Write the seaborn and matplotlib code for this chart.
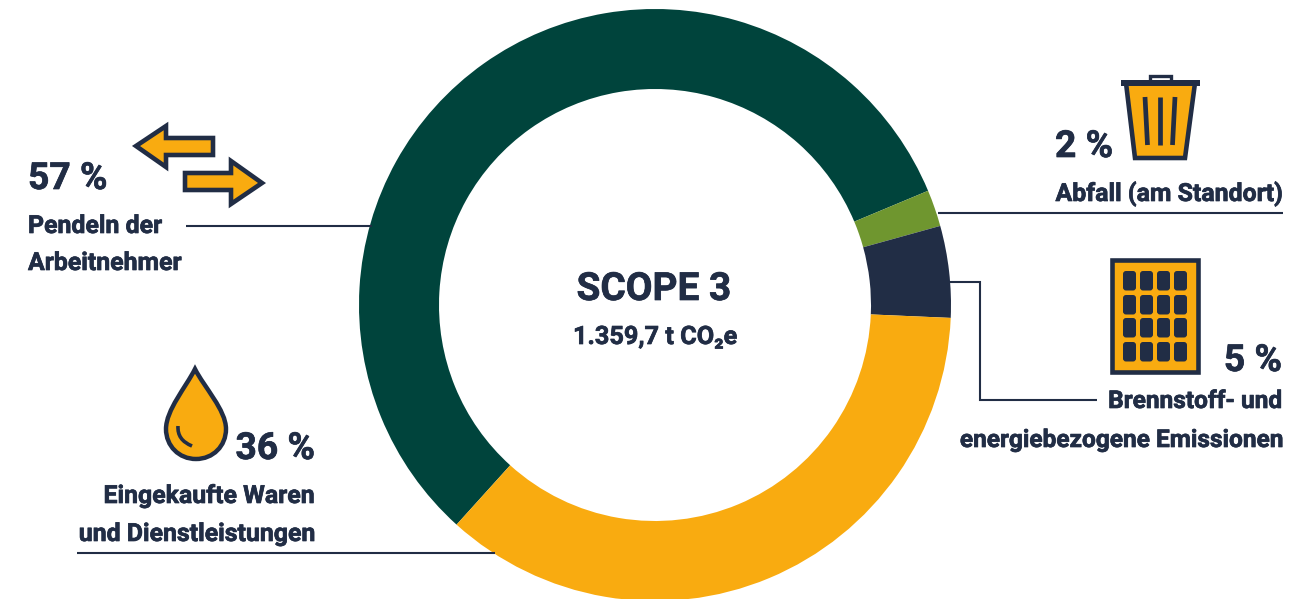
import matplotlib
matplotlib.use("Agg")
import matplotlib.pyplot as plt
import matplotlib.patheffects as pe
from matplotlib.patches import Polygon, Rectangle, FancyBboxPatch, PathPatch
from matplotlib.path import Path
import seaborn as sns

categories = ["Pendeln der Arbeitnehmer", "Abfall (am Standort)",
              "Brennstoff- und energiebezogene Emissionen",
              "Eingekaufte Waren und Dienstleistungen"]
shares = [57, 2, 5, 36]
colors = ["#00443C", "#6F962F", "#212D45", "#F9AB10"]
title = "SCOPE 3"
subtitle = "1.359,7 t CO₂e"

NAVY = "#212D45"
ORANGE = "#F9AB10"

sns.set_theme(style="white")
plt.rcParams["font.family"] = ["Roboto", "DejaVu Sans"]
plt.rcParams["font.weight"] = "bold"

W, H = 1316, 599
fig = plt.figure(figsize=(W / 100, H / 100), dpi=100, facecolor="white")

ax_pie = fig.add_axes([0, 0, 1, 1])
cx, cy, R, r = 655, 305, 296, 216
ax_pie.pie(shares, colors=sns.color_palette(colors), startangle=227.9, counterclock=False,
           center=(cx, H - cy), radius=R, frame=True,
           wedgeprops=dict(width=R - r, linewidth=0))
ax_pie.set_xlim(0, W)
ax_pie.set_ylim(0, H)
ax_pie.axis("off")

ax = fig.add_axes([0, 0, 1, 1], facecolor="none")
ax.set_xlim(0, W)
ax.set_ylim(H, 0)
ax.axis("off")

HEAVY = [pe.withStroke(linewidth=0.5, foreground=NAVY)]


def txt(x, y, s, size, ha="left"):
    ax.text(x, y, s, fontsize=size, color=NAVY, ha=ha, va="baseline",
            fontweight="bold", path_effects=HEAVY)


def line(xs, ys):
    ax.plot(xs, ys, color=NAVY, lw=1.5, solid_joinstyle="miter", solid_capstyle="butt")


# centre
txt(654, 300, title, 27.9, "center")
txt(655, 344, subtitle, 18.2, "center")

# values and labels
PCT = 26.8
LAB = 17.9
txt(28, 189, f"{shares[0]} %", PCT)
txt(28, 233, "Pendeln der", LAB)
txt(28, 270, "Arbeitnehmer", LAB)

txt(1055, 157, f"{shares[1]} %", PCT)
txt(1283, 201, "Abfall (am Standort)", LAB, "right")

txt(1282, 371, f"{shares[2]} %", PCT, "right")
txt(1282, 408, "Brennstoff- und", 17.6, "right")
txt(1282, 447, "energiebezogene Emissionen", 17.6, "right")

txt(315, 459, f"{shares[3]} %", PCT, "right")
txt(315, 503, "Eingekaufte Waren", LAB, "right")
txt(315, 541, "und Dienstleistungen", LAB, "right")

# leader lines
line([186, 372], [226, 226])
line([938, 1283], [213, 213])
line([950, 980, 980, 1097], [282, 282, 400, 400])
line([77, 495], [553, 553])

# icons
ICON = dict(facecolor=ORANGE, edgecolor=NAVY, linewidth=3.3, joinstyle="miter")
ax.add_patch(Polygon([(136, 146), (166, 126), (166, 138), (213, 138), (213, 155),
                      (166, 155), (166, 167)], **ICON))
ax.add_patch(Polygon([(262, 183), (231, 161), (231, 173), (185, 173), (185, 190),
                      (231, 190), (231, 204)], **ICON))

# trash bin
ax.add_patch(Rectangle((1150, 76), 21, 8, facecolor="white", edgecolor=NAVY, linewidth=2.4))
ax.add_patch(Polygon([(1126, 83), (1195, 83), (1185, 158), (1135, 158)], **ICON))
ax.add_patch(Rectangle((1121, 80), 79, 5.5, facecolor=NAVY, edgecolor="none"))
for xa, xb in [(1145, 1147.5), (1160, 1160), (1175, 1172.5)]:
    ax.plot([xa, xb], [97, 145], color=NAVY, lw=3.4, solid_capstyle="butt")

# building
ax.add_patch(Rectangle((1111.5, 259.5), 86, 112, **ICON))
for wx in [1123, 1140, 1157, 1174]:
    for wy in [271, 295, 318, 342]:
        ax.add_patch(FancyBboxPatch((wx + 3, wy + 3), 7, 13.5,
                                    boxstyle="round,pad=3,rounding_size=3",
                                    facecolor=NAVY, edgecolor="none"))

# drop
codes = [Path.MOVETO, Path.CURVE4, Path.CURVE4, Path.CURVE4,
         Path.CURVE4, Path.CURVE4, Path.CURVE4,
         Path.CURVE4, Path.CURVE4, Path.CURVE4,
         Path.CURVE4, Path.CURVE4, Path.CURVE4, Path.CLOSEPOLY]
verts = [(195, 369), (186, 387), (166, 410), (166, 429),
         (166, 446), (179, 459), (196, 459),
         (213, 459), (226, 446), (226, 429),
         (226, 410), (204, 387), (195, 369), (195, 369)]
ax.add_patch(PathPatch(Path(verts, codes), facecolor=ORANGE, edgecolor=NAVY, linewidth=3.2, joinstyle="miter"))
ax.add_patch(PathPatch(Path([(178, 426), (177, 440), (192, 446)],
                            [Path.MOVETO, Path.CURVE3, Path.CURVE3]),
                       facecolor="none", edgecolor=NAVY, linewidth=2.6))

fig.savefig("out.png", dpi=100, facecolor="white")
